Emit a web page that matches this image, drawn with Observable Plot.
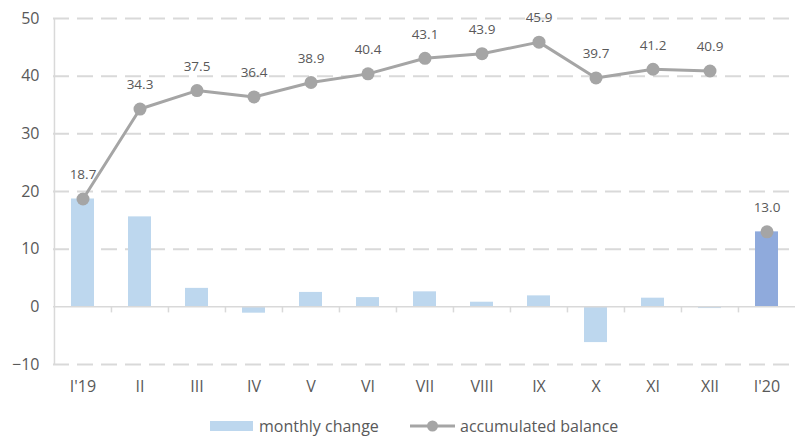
<!DOCTYPE html>
<html>
<head>
<meta charset="utf-8">
<script src="https://cdn.jsdelivr.net/npm/d3@7"></script>
<script src="https://cdn.jsdelivr.net/npm/@observablehq/plot@0.6"></script>
<style>
  html, body { margin: 0; padding: 0; background: #fff; }
  #wrap { position: relative; width: 795px; height: 436px; font-family: "Open Sans", sans-serif; color: #595959; }
  #legend { position: absolute; left: 0; top: 415px; width: 795px; height: 22px; font-size: 16px; }
  .item { position: absolute; top: 0; height: 22px; display: flex; align-items: center; }
</style>
</head>
<body>
<div id="wrap">
  <div id="chart"></div>
  <div id="legend">
    <div class="item" style="left:210px">
      <svg width="44" height="12"><rect x="0" y="1" width="43" height="10" fill="#bdd7ee"></rect></svg>
      <span style="margin-left:5px">monthly change</span>
    </div>
    <div class="item" style="left:410px">
      <svg width="46" height="14"><line x1="0" y1="7" x2="45" y2="7" stroke="#a5a5a5" stroke-width="3"></line><circle cx="22.5" cy="7" r="5.5" fill="#a5a5a5"></circle></svg>
      <span style="margin-left:4px">accumulated balance</span>
    </div>
  </div>
</div>
<script>
const months = ["I'19", "II", "III", "IV", "V", "VI", "VII", "VIII", "IX", "X", "XI", "XII", "I'20"];
const monthlyChange = [18.7, 15.6, 3.2, -1.1, 2.5, 1.6, 2.6, 0.8, 1.9, -6.2, 1.5, -0.3, 13.0];
const accumulatedBalance = [18.7, 34.3, 37.5, 36.4, 38.9, 40.4, 43.1, 43.9, 45.9, 39.7, 41.2, 40.9, 13.0];
const yTicks = [-10, 0, 10, 20, 30, 40, 50];

const width = 795, marginLeft = 53, marginRight = 0;
const step = (width - marginLeft - marginRight) / months.length;

const data = months.map((m, i) => ({
  month: m,
  change: monthlyChange[i],
  balance: accumulatedBalance[i],
  last: i === months.length - 1
}));

const chart = Plot.plot({
  width,
  height: 405,
  marginLeft,
  marginRight,
  marginTop: 18,
  marginBottom: 41,
  style: { fontFamily: "Open Sans, sans-serif", fontSize: "16px", color: "#595959", background: "#fff" },
  x: { type: "band", domain: months, paddingInner: 0.6, paddingOuter: 0.3, label: null },
  y: { domain: [-10, 50], label: null },
  marks: [
    Plot.ruleY(yTicks.filter(d => d !== 0), { stroke: "#d9d9d9", strokeWidth: 2, strokeDasharray: "16,8" }),
    Plot.ruleX([months[0]], { y1: -10, y2: 50, dx: -step / 2, stroke: "#d9d9d9", strokeWidth: 1.5 }),
    Plot.barY(data, { x: "month", y: "change", fill: d => d.last ? "#8faadc" : "#bdd7ee" }),
    Plot.ruleY([0], { stroke: "#d9d9d9", strokeWidth: 1.5 }),
    Plot.ruleX(months.slice(1), { y1: 0, y2: -1.05, dx: -step / 2, stroke: "#d9d9d9", strokeWidth: 1.5 }),
    Plot.line(data.slice(0, 12), { x: "month", y: "balance", stroke: "#a5a5a5", strokeWidth: 3 }),
    Plot.dot(data, { x: "month", y: "balance", r: 6.5, fill: "#a5a5a5" }),
    Plot.text(data, { x: "month", y: "balance", text: d => d.balance.toFixed(1), dy: -24, fontSize: 13.5, fill: "#595959" }),
    Plot.axisY(yTicks, { tickSize: 0, tickPadding: 14, fontSize: 16, fill: "#595959" }),
    Plot.axisX({ tickSize: 0, tickPadding: 16, fontSize: 16, fill: "#595959" })
  ]
});
document.getElementById("chart").appendChild(chart);
</script>
</body>
</html>
